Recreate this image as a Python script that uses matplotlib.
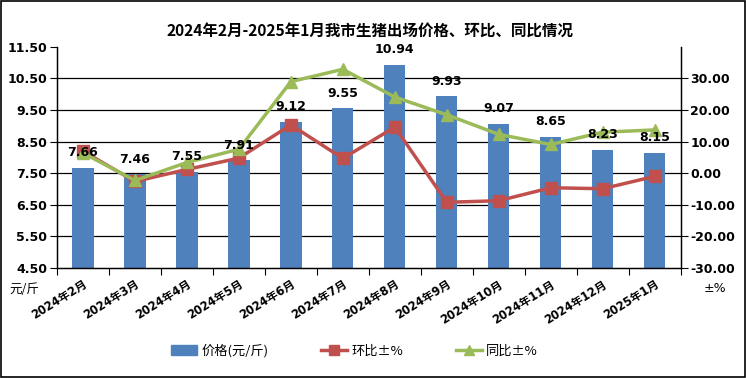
import matplotlib.pyplot as plt
import numpy as np

plt.rcParams['font.family'] = ['DejaVu Sans', 'Noto Sans CJK SC']

months = ['2024年2月', '2024年3月', '2024年4月', '2024年5月', '2024年6月', '2024年7月',
          '2024年8月', '2024年9月', '2024年10月', '2024年11月', '2024年12月', '2025年1月']
price = [7.66, 7.46, 7.55, 7.91, 9.12, 9.55, 10.94, 9.93, 9.07, 8.65, 8.23, 8.15]
mom = [7.0, -2.6, 1.2, 4.8, 15.3, 4.7, 14.6, -9.2, -8.7, -4.6, -4.9, -1.0]
yoy = [6.4, -2.3, 3.4, 7.6, 29.0, 32.9, 24.1, 18.5, 12.3, 9.1, 13.0, 13.7]

blue = '#4F81BD'
red = '#C0504D'
green = '#9BBB59'

fig = plt.figure(figsize=(7.46, 3.78), dpi=100)
ax = fig.add_axes([0.0764, 0.291, 0.836, 0.585])
ax2 = ax.twinx()

x = np.arange(len(months))
ax.bar(x, price, width=0.41, color=blue, zorder=2)
ax.set_ylim(4.5, 11.5)
ax.set_xlim(-0.5, len(months) - 0.5)
ax.set_yticks(np.arange(4.5, 11.6, 1.0))
ax.set_yticklabels([f'{v:.2f}' for v in np.arange(4.5, 11.6, 1.0)], fontweight='bold', fontsize=9)
for v in np.arange(5.5, 11.0, 1.0):
    ax.axhline(v, color='black', lw=0.9, zorder=1)

# ticks between categories, labels at centres
ax.set_xticks(np.arange(-0.5, len(months), 1.0))
ax.set_xticklabels([])
ax.set_xticks(x, minor=True)
ax.set_xticklabels(months, minor=True, rotation=32, ha='right', va='top',
                   rotation_mode='anchor', fontweight='bold', fontsize=8.3)
ax.tick_params(axis='x', which='minor', length=0, pad=7)
ax.tick_params(axis='x', which='major', length=5, direction='out')
ax.tick_params(axis='y', length=5, direction='out', pad=2)

ax2.plot(x, mom, color=red, lw=2.5, marker='s', markersize=8, zorder=3)
ax2.plot(x, yoy, color=green, lw=2.5, marker='^', markersize=8, zorder=4)
ax2.set_ylim(-30, 40)
ax2.set_yticks(np.arange(-30, 31, 10))
ax2.set_yticklabels([f'{v:.2f}' for v in np.arange(-30, 31, 10)], fontweight='bold', fontsize=9)
ax2.tick_params(axis='y', length=5, direction='out', pad=2)

for a in (ax, ax2):
    a.spines['top'].set_visible(False)
    for s in ('left', 'right', 'bottom'):
        a.spines[s].set_color('black')
        a.spines[s].set_linewidth(0.9)

for i, v in enumerate(price):
    ax2.annotate(f'{v:.2f}', xy=(i, v), xycoords=ax.transData, xytext=(0, 11),
                 textcoords='offset points', ha='center', va='center',
                 fontweight='bold', fontsize=9, zorder=6)

fig.text(0.496, 0.92, '2024年2月-2025年1月我市生猪出场价格、环比、同比情况',
         ha='center', va='center', fontsize=11.2, fontweight='bold',
         family=['Noto Sans CJK SC', 'DejaVu Sans'])
fig.text(0.012, 0.234, '元/斤', ha='left', va='center', fontsize=9,
         family=['Noto Sans CJK SC', 'DejaVu Sans'])
fig.text(0.958, 0.237, '±%', ha='center', va='center', fontsize=9,
         family=['DejaVu Sans', 'Noto Sans CJK SC'])

bar_h = plt.Rectangle((0, 0), 1, 1, color=blue)
l1, = ax2.plot([], [], color=red, lw=2.5, marker='s', markersize=7)
l2, = ax2.plot([], [], color=green, lw=2.5, marker='^', markersize=7)
fig.legend([bar_h, l1, l2], ['价格(元/斤)', '环比±%', '同比±%'], loc='center',
           bbox_to_anchor=(0.475, 0.072), ncol=3, frameon=False,
           prop={'family': ['Noto Sans CJK SC', 'DejaVu Sans'], 'size': 9.5},
           handlelength=2.0, handletextpad=0.3, columnspacing=4.0)

fig.patches.append(plt.Rectangle((0.001, 0.002), 0.997, 0.995, transform=fig.transFigure,
                                 fill=False, edgecolor='black', lw=1.2))

fig.savefig('out.png', dpi=100)
